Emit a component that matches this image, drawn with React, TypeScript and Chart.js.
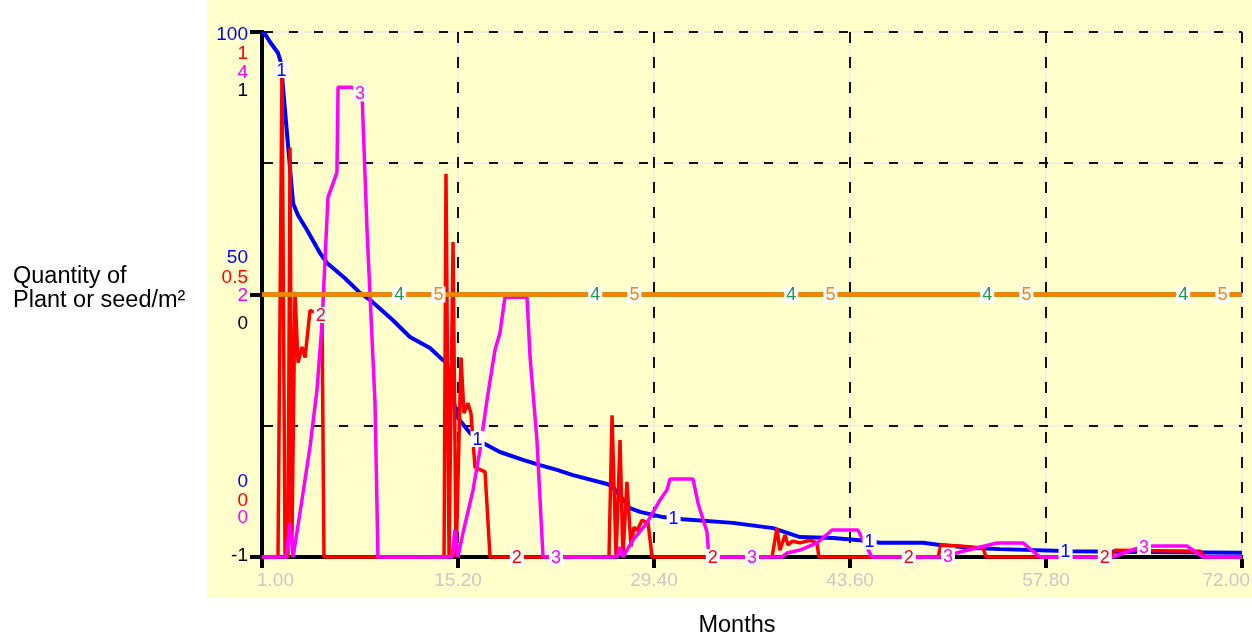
import React, { useEffect, useRef } from "react";
import { Chart, registerables } from "chart.js";

Chart.register(...registerables);

// Time axis (months) and grid levels
const xTickValues = [1, 15.2, 29.4, 43.6, 57.8, 72];
const gridLevels = [-1, -0.5, 0, 0.5, 1];

// Per-series scale labels (min, mid, max)
const plantTicks = [0, 50, 100];
const seedTicks = [0, 0.5, 1];
const thirdTicks = [0, 2, 4];
const levelTicks = [-1, 0, 1];

// Series 1 (scale 0-100)
const months1 = [1, 1.22, 1.58, 2.16, 2.38, 2.52, 3.25, 3.61, 4.26, 5.2, 5.71, 7.01, 8.1, 8.82, 10.49, 11.72, 13.17, 14.11, 14.4, 14.62, 15.13, 16.07, 17.01, 18.24, 19.91, 21.14, 22.37, 23.53, 26.0, 26.43, 27.66, 28.39, 30.05, 31.5, 35.12, 38.02, 39.98, 42.37, 44.32, 45.77, 48.89, 50.12, 52.51, 54.47, 59.76, 64.61, 72];
const values1 = [100, 99.6, 98.1, 96.0, 94.1, 89.5, 67.4, 65.1, 62.3, 57.9, 56.0, 53.1, 50.3, 49.0, 45.1, 41.9, 39.8, 37.5, 37.0, 33.1, 26.7, 23.6, 21.7, 20.0, 18.5, 17.5, 16.6, 15.6, 13.9, 13.3, 9.3, 8.6, 7.6, 7.2, 6.5, 5.5, 3.8, 3.6, 3.2, 2.7, 2.7, 2.3, 1.7, 1.5, 1.1, 0.95, 0.8];

// Series 2 (scale 0-1)
const months2 = [1, 2.16, 2.45, 2.67, 2.88, 3.03, 3.17, 3.39, 3.61, 3.9, 4.12, 4.48, 5.35, 5.49, 14.19, 14.33, 14.55, 14.84, 15.06, 15.42, 15.63, 15.92, 16.14, 16.43, 17.16, 17.52, 26.14, 26.36, 26.65, 26.94, 27.15, 27.44, 27.73, 27.95, 28.17, 28.53, 28.97, 29.26, 37.95, 38.31, 38.52, 38.89, 39.11, 39.4, 39.98, 40.7, 41.21, 41.35, 49.98, 50.19, 51.57, 53.24, 53.45, 62.44, 62.8, 68.96, 69.32, 72];
const values2 = [0, 0, 0.93, 0, 0, 0.78, 0.03, 0.505, 0.37, 0.4, 0.38, 0.47, 0.46, 0, 0, 0.73, 0, 0.6, 0, 0.38, 0.274, 0.293, 0.274, 0.171, 0.162, 0, 0, 0.27, 0, 0.223, 0, 0.143, 0.02, 0.057, 0.05, 0.07, 0.065, 0, 0, 0.055, 0.013, 0.042, 0.023, 0.03, 0.027, 0.032, 0.027, 0, 0, 0.023, 0.021, 0.017, 0, 0, 0.013, 0.011, 0, 0];

// Series 3 (scale 0-4)
const months3 = [1, 2.74, 3.03, 3.25, 3.75, 4.48, 4.98, 5.35, 5.78, 6.43, 6.51, 7.52, 8.25, 8.61, 9.19, 9.4, 14.77, 14.98, 15.2, 15.56, 16.29, 16.79, 17.3, 17.88, 18.24, 18.6, 20.2, 20.42, 20.92, 21.36, 26.72, 26.94, 27.15, 27.88, 28.89, 29.83, 30.34, 30.56, 32.23, 32.59, 33.24, 33.38, 38.67, 39.04, 39.98, 41.21, 42.3, 44.18, 44.54, 45.19, 50.34, 51.57, 54.25, 56.13, 57.37, 62.65, 64.61, 65.55, 68.01, 69.17, 72];
const values3 = [0, 0, 0.26, 0, 0.335, 0.84, 1.27, 1.78, 2.74, 2.93, 3.58, 3.58, 3.52, 2.49, 1.17, 0, 0, 0.206, 0, 0.183, 0.51, 0.815, 1.196, 1.577, 1.707, 1.98, 1.98, 1.524, 0.89, 0, 0, 0.076, 0, 0.13, 0.26, 0.434, 0.51, 0.594, 0.594, 0.41, 0.19, 0, 0, 0.03, 0.053, 0.107, 0.206, 0.206, 0.13, 0, 0, 0.038, 0.107, 0.107, 0, 0, 0.076, 0.084, 0.084, 0, 0];

// Series 4 and 5 (scale -1 to 1)
const months4 = [1, 72];
const values4 = [0, 0];
const months5 = [1, 72];
const values5 = [0, 0];

const BLUE = "#0000ff";
const RED = "#ff0000";
const MAGENTA = "#ff00ff";
const GREEN = "#1f9a4a";
const ORANGE = "#ff8000";
const PANEL = "#ffffcc";
const FONT = '"Liberation Sans", Arial, Helvetica, sans-serif';

const toPoints = (xs: number[], ys: number[]) => xs.map((x, i) => ({ x, y: ys[i] }));

const isWhole = (v: number) => Math.abs(v - Math.round(v)) < 1e-9;

// Yellow panel and pale rules under the dashed grid
const panelPlugin = {
  id: "panelPlugin",
  beforeDraw(chart: any) {
    const { ctx, chartArea, scales } = chart;
    ctx.save();
    ctx.fillStyle = "#ffffff";
    ctx.fillRect(0, 0, chart.width, chart.height);
    ctx.fillStyle = PANEL;
    ctx.fillRect(207, 0, chart.width - 207, 598);
    ctx.strokeStyle = "#f0f0dc";
    ctx.lineWidth = 2;
    ctx.beginPath();
    for (const v of xTickValues) {
      const x = scales.x.getPixelForValue(v);
      ctx.moveTo(x, chartArea.top);
      ctx.lineTo(x, chartArea.bottom);
    }
    for (const v of gridLevels) {
      const y = scales.yLevel.getPixelForValue(v);
      ctx.moveTo(chartArea.left, y);
      ctx.lineTo(chartArea.right, y);
    }
    ctx.stroke();
    ctx.restore();
  },
};

// Numbered markers placed along each line
const lineLabelPlugin = {
  id: "lineLabelPlugin",
  afterDatasetsDraw(chart: any) {
    const { ctx, scales } = chart;
    const span = (72 - 1) / 5;
    ctx.save();
    ctx.font = `18px ${FONT}`;
    ctx.textAlign = "center";
    ctx.textBaseline = "middle";
    chart.data.datasets.forEach((ds: any, i: number) => {
      const pts = chart.getDatasetMeta(i).data;
      for (let k = 0; k < 5; k++) {
        const m = 1 + span * (k + (i + 0.5) / 5);
        const x = scales.x.getPixelForValue(m);
        let y = pts[pts.length - 1].y;
        for (let j = 0; j < pts.length - 1; j++) {
          const a = pts[j];
          const b = pts[j + 1];
          if (x >= a.x && x <= b.x) {
            const t = b.x === a.x ? 0 : (x - a.x) / (b.x - a.x);
            y = a.y + t * (b.y - a.y);
            break;
          }
        }
        const w = ctx.measureText(ds.label).width;
        ctx.fillStyle = "#ffffff";
        ctx.fillRect(x - w / 2 - 2, y - 8, w + 4, 16);
        ctx.fillStyle = ds.borderColor;
        ctx.fillText(ds.label, x, y + 1);
      }
    });
    ctx.restore();
  },
};

// Stacked scale labels, tick labels and axis titles
const axisTextPlugin = {
  id: "axisTextPlugin",
  afterDraw(chart: any) {
    const { ctx, scales } = chart;
    const yl = scales.yLevel;
    const sets = [
      { ticks: plantTicks, color: BLUE },
      { ticks: seedTicks, color: RED },
      { ticks: thirdTicks, color: MAGENTA },
      { ticks: levelTicks, color: "#000000" },
    ];
    const groups = [
      { idx: 2, offsets: [2.5, 22, 40.5, 59] },
      { idx: 1, offsets: [-36.5, -16.5, 1.5, 29.5] },
      { idx: 0, offsets: [-75, -56.5, -39, -1] },
    ];
    ctx.save();
    ctx.font = `19px ${FONT}`;
    ctx.textAlign = "right";
    ctx.textBaseline = "middle";
    for (const g of groups) {
      const anchor = yl.getPixelForValue(levelTicks[g.idx]);
      sets.forEach((s, i) => {
        ctx.fillStyle = s.color;
        ctx.fillText(String(s.ticks[g.idx]), 248, anchor + g.offsets[i]);
      });
    }

    ctx.fillStyle = "#c8c8c8";
    xTickValues.forEach((v, i) => {
      const x = scales.x.getPixelForValue(v);
      const text = v.toFixed(2);
      if (i === 0) {
        ctx.textAlign = "left";
        ctx.fillText(text, x - 5, 581);
      } else if (i === xTickValues.length - 1) {
        ctx.textAlign = "right";
        ctx.fillText(text, x + 8, 581);
      } else {
        ctx.textAlign = "center";
        ctx.fillText(text, x, 581);
      }
    });

    ctx.fillStyle = "#000000";
    ctx.font = `23.5px ${FONT}`;
    ctx.textAlign = "center";
    ctx.textBaseline = "middle";
    ctx.fillText("Months", 737, 626);
    ctx.textAlign = "left";
    ctx.textBaseline = "alphabetic";
    ctx.fillText("Quantity of", 13, 283);
    ctx.fillText("Plant or seed/m\u00B2", 13, 307);
    ctx.restore();
  },
};

export default function App() {
  const canvasRef = useRef<HTMLCanvasElement>(null);

  useEffect(() => {
    const canvas = canvasRef.current;
    if (!canvas) return;
    const lineBase = {
      pointRadius: 0,
      pointHoverRadius: 0,
      tension: 0,
      fill: false,
      clip: false as const,
      borderJoinStyle: "bevel" as const,
    };
    const chart = new Chart(canvas, {
      type: "line",
      data: {
        datasets: [
          { ...lineBase, label: "1", data: toPoints(months1, values1), yAxisID: "yPlant", borderColor: BLUE, borderWidth: 4, order: 4 },
          { ...lineBase, label: "2", data: toPoints(months2, values2), yAxisID: "ySeed", borderColor: RED, borderWidth: 3.5, order: 3 },
          { ...lineBase, label: "3", data: toPoints(months3, values3), yAxisID: "yThird", borderColor: MAGENTA, borderWidth: 3.5, order: 2 },
          { ...lineBase, label: "4", data: toPoints(months4, values4), yAxisID: "yLevel", borderColor: GREEN, borderWidth: 4.5, order: 1 },
          { ...lineBase, label: "5", data: toPoints(months5, values5), yAxisID: "yLevel", borderColor: ORANGE, borderWidth: 4.5, order: 0 },
        ],
      },
      options: {
        responsive: false,
        animation: false,
        devicePixelRatio: 1,
        events: [],
        layout: { padding: { left: 250, right: 10, top: 32, bottom: 70 } },
        plugins: { legend: { display: false }, tooltip: { enabled: false } },
        scales: {
          x: {
            type: "linear",
            position: "bottom",
            min: 1,
            max: 72,
            afterBuildTicks: (s: any) => {
              s.ticks = xTickValues.map((value) => ({ value }));
            },
            afterFit: (s: any) => {
              s.paddingLeft = 0;
              s.paddingRight = 0;
            },
            ticks: { display: false },
            grid: {
              display: true,
              drawOnChartArea: true,
              drawTicks: true,
              color: "#111111",
              lineWidth: 2,
              tickLength: 11,
              tickColor: "#000000",
              tickWidth: 4,
              tickBorderDash: [],
            },
            border: { display: true, color: "#000000", width: 4, dash: [11, 14] },
          },
          yLevel: {
            type: "linear",
            position: "left",
            min: -1,
            max: 1,
            afterBuildTicks: (s: any) => {
              s.ticks = gridLevels.map((value) => ({ value }));
            },
            ticks: { display: false },
            grid: {
              display: true,
              drawOnChartArea: true,
              drawTicks: true,
              color: "#111111",
              lineWidth: 2,
              tickLength: 12,
              tickWidth: 4,
              tickColor: (c: any) => (c.tick && isWhole(c.tick.value) ? "#000000" : "rgba(0,0,0,0)"),
              tickBorderDash: [],
            },
            border: { display: true, color: "#000000", width: 4, dash: [9, 16] },
          },
          yPlant: { type: "linear", display: false, min: 0, max: 100 },
          ySeed: { type: "linear", display: false, min: 0, max: 1 },
          yThird: { type: "linear", display: false, min: 0, max: 4 },
        },
      } as any,
      plugins: [panelPlugin, lineLabelPlugin, axisTextPlugin],
    });
    return () => chart.destroy();
  }, []);

  return (
    <div style={{ position: "absolute", left: 0, top: 0, width: 1252, height: 638 }}>
      <canvas ref={canvasRef} width={1252} height={638} style={{ display: "block" }} />
    </div>
  );
}
